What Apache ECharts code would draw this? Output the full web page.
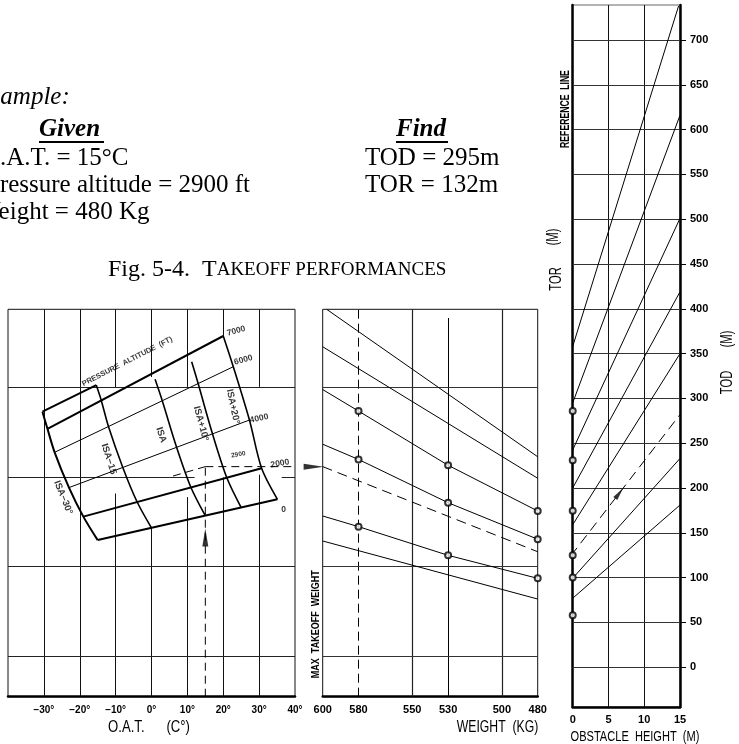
<!DOCTYPE html>
<html>
<head>
<meta charset="utf-8">
<title>Takeoff performances</title>
<script src="https://cdn.jsdelivr.net/npm/echarts@6/dist/echarts.min.js"></script>
<style>
  html, body { margin: 0; padding: 0; background: #fff; }
  #chart { width: 739px; height: 744px; }
</style>
</head>
<body>
<div id="chart"></div>
<script>
// ---------- fonts ----------
const CAD = "'Liberation Sans', Arial, sans-serif";
const SERIF = "'Liberation Serif', 'Times New Roman', serif";

// ---------- O.A.T. / pressure altitude panel (x: deg C, y: common height scale) ----------
const oatTicks = [-40, -30, -20, -10, 0, 10, 20, 30, 40];
// vertical grid segments: [O.A.T., from, to]
const oatVerticalSegs = [
  [-30, -32.8, 399.6], [-20, -32.8, 399.6],
  [-10, -32.8, 194], [-10, 312.8, 399.6],
  [0, -32.8, 155.6], [0, 324, 399.6],
  [10, -32.8, 190], [10, 313, 399.6],
  [20, -32.8, 212], [20, 369.8, 399.6],
  [30, -32.8, 215], [30, 313, 399.6]
];
// horizontal grid segments: [level, fromOAT, toOAT]
const oatHorizontalSegs = [
  [312.8, -40, 40], [212.4, -40, 12], [212.4, 36.3, 40], [112.3, -40, 40], [12.6, -40, 40]
];
// pressure altitude lines (ft), from ISA-30 to ISA+20
const pa0 = [[-15, 142.0], [35.1, 187.5]];
const pa2000 = [[-19, 168.2], [30.7, 222.1]];
const pa4000 = [[-23, 200.6], [27.3, 276.0]];
const pa6000 = [[-27, 240.0], [22.8, 335.5]];
const pa7000 = [[-29, 266.2], [20.0, 369.8]];
const paTopEdge = [[-30.4, 285.3], [-15.4, 315.0]];
// ISA deviation curves, from 0 ft upwards
const isaM30 = [[-15, 142.0], [-19, 168.2], [-23, 200.6], [-27, 240.0], [-29, 266.2], [-30.4, 285.3]];
const isaM15 = [[0, 155.6], [-4, 184.5], [-8, 223.1], [-12, 268.8], [-14, 297.9], [-15.4, 315.0]];
const isa0 = [[15, 169.2], [11, 200.7], [7, 245.6], [3, 297.5], [1.0, 321.4]];
const isaP10 = [[25, 178.3], [21, 211.6], [17, 260.6], [13, 316.7], [11.2, 341.1]];
const isaP20 = [[35.1, 187.5], [30.7, 222.1], [27.3, 276.0], [22.8, 335.5], [20.0, 369.8]];

// ---------- weight panel (x: kg, y: TOR scale in m) ----------
const weightTicks = [600, 580, 550, 530, 500, 480];
const weightGridFull = [550, 500];
const weightGridLevels = [312.8, 112.3, 12.6];
const weightGuide1 = [[597.8, 399.6], [480, 235]];
const weightGuide2 = [[600, 357.8], [480, 211]];
const weightGuide3 = [[600, 310], [580, 286], [530, 225.5], [480, 174.5]];
const weightGuide4 = [[600, 249], [580, 232], [530, 183.7], [480, 143]];
const weightGuide5 = [[600, 168.9], [580, 157], [530, 125], [480, 99.3]];
const weightGuide6 = [[600, 141], [480, 76.2]];
const weightPoints = [[580, 286], [580, 232], [580, 157], [530, 225.5], [530, 183.7], [530, 125],
  [480, 174.5], [480, 143], [480, 99.3]];

// ---------- obstacle panel (x: obstacle height m, y: TOR / TOD m) ----------
const torTicks = [0, 50, 100, 150, 200, 250, 300, 350, 400, 450, 500, 550, 600, 650, 700];
const obstacleTicks = [0, 5, 10, 15];
const todGuideA = [[0, 358], [14.8, 738]];
const todGuideB = [[0, 295], [15, 616]];
const todGuideC = [[0, 242.5], [15, 501]];
const todGuideD = [[0, 200], [15, 419]];
const todGuideE = [[0, 159], [15, 350]];
const todGuideF = [[0, 99.3], [15, 233]];
const todGuideG = [[0, 77], [15, 181]];
const referencePoints = [[0, 286], [0, 231], [0, 174.5], [0, 125], [0, 100], [0, 58]];

// ---------- worked example: 15 C, 2900 ft, 480 kg ----------
const exOatUp = [[15, -32.8], [15, 224]];
const exAlt2900 = [[6, 213.5], [15, 224]];
const exToWeight = [[15, 224], [42.5, 224]];
const exWeight = [[600, 224], [480, 129]];
const exToObstacle = [[-4.9, 129], [0, 127], [15, 282]];

// ---------- annotation anchors (data units) ----------
const paLabelText = ['7000', '6000', '4000', '2000', '0', '2900'];
const paLabelAnchors = [[23.6, 375.3], [25.6, 343], [30.0, 277.7], [35.8, 227.5], [36.8, 175.6], [24.2, 237.5]];
const isaLabelText = ['ISA\u221230\u00b0', 'ISA\u221215', 'ISA', 'ISA+10\u00b0', 'ISA+20\u00b0'];
const isaLabelAnchors = [[-24.6, 189.5], [-11.9, 232.5], [2.7, 259.3], [13.8, 272], [22.7, 291]];

// ---------- helpers ----------
const INK = '#000';
function segments(coordsList, xi, yi, style, extra) {
  return Object.assign({
    type: 'lines', coordinateSystem: 'cartesian2d', xAxisIndex: xi, yAxisIndex: yi,
    silent: true, polyline: false,
    lineStyle: Object.assign({ color: INK, width: 1, opacity: 1, curveness: 0 }, style),
    data: coordsList.map(c => ({ coords: c }))
  }, extra || {});
}
function path(data, xi, yi, style, extra) {
  return Object.assign({
    type: 'line', xAxisIndex: xi, yAxisIndex: yi, data: data,
    symbol: 'none', showSymbol: false, silent: true,
    lineStyle: Object.assign({ color: INK, width: 1 }, style)
  }, extra || {});
}
const dash = { type: [8, 5] };

const axisLabelBase = { color: INK, fontFamily: CAD, fontWeight: 'bold' };
const thickAxis = { show: true, onZero: false, lineStyle: { color: INK, width: 2.5 } };
const HEAD = 25;

const option = {
  animation: false,
  backgroundColor: '#fff',
  grid: [
    { left: 8, top: 309.3, width: 287, height: 387.4, show: true, borderColor: '#111', borderWidth: 1, containLabel: false, outerBoundsMode: 'none' },
    { left: 322.7, top: 309.3, width: 215, height: 387.4, show: true, borderColor: '#111', borderWidth: 1, containLabel: false, outerBoundsMode: 'none' },
    { left: 572.7, top: 5, width: 107.3, height: 702, show: true, borderColor: '#666', borderWidth: 1, containLabel: false, outerBoundsMode: 'none' }
  ],
  xAxis: [
    {
      gridIndex: 0, type: 'value', min: -40, max: 40, interval: 10,
      axisLine: thickAxis,
      axisTick: { show: false }, splitLine: { show: false },
      axisLabel: Object.assign({}, axisLabelBase, {
        fontSize: 10, margin: 9,
        formatter: v => v === -40 ? '' : (v < 0 ? '\u2212' + (-v) : String(v)) + '\u00b0'
      })
    },
    {
      gridIndex: 1, type: 'value', min: 480, max: 600, inverse: true,
      axisLine: thickAxis,
      axisTick: { show: false }, splitLine: { show: false },
      axisLabel: Object.assign({}, axisLabelBase, { fontSize: 11, margin: 8, customValues: weightTicks })
    },
    {
      gridIndex: 2, type: 'value', min: 0, max: 15, interval: 5,
      axisLine: thickAxis,
      axisTick: { show: false },
      splitLine: { show: true, lineStyle: { color: '#111', width: 1 } },
      axisLabel: Object.assign({}, axisLabelBase, { fontSize: 11, margin: 7 })
    }
  ],
  yAxis: [
    { gridIndex: 0, type: 'value', min: -32.8, max: 399.6, show: false },
    { gridIndex: 1, type: 'value', min: -32.8, max: 399.6, show: false },
    {
      gridIndex: 2, type: 'value', min: -44.4, max: 739.1, position: 'right',
      axisLine: thickAxis,
      axisTick: { show: true, length: 6, customValues: torTicks, lineStyle: { color: INK, width: 1 } },
      splitLine: { show: false },
      axisLabel: Object.assign({}, axisLabelBase, { fontSize: 11, margin: 10, customValues: torTicks })
    },
    {
      gridIndex: 2, type: 'value', min: -44.4, max: 739.1, position: 'left',
      axisLine: thickAxis,
      axisTick: { show: false }, axisLabel: { show: false }, splitLine: { show: false }
    }
  ],
  graphic: [
    // example block
    { type: 'text', x: -26, y: 97, style: { text: 'Example:', fontSize: HEAD, fontFamily: SERIF, fontStyle: 'italic', fill: INK, align: 'left', verticalAlign: 'middle' } },
    { type: 'text', x: 39, y: 130, style: { text: 'Given', fontSize: HEAD, fontFamily: SERIF, fontStyle: 'italic', fontWeight: 'bold', fill: INK, align: 'left', verticalAlign: 'middle' } },
    { type: 'line', shape: { x1: 39, y1: 142, x2: 104, y2: 142 }, style: { stroke: INK, lineWidth: 2 } },
    { type: 'text', x: -18, y: 158, style: { text: 'O.A.T. = 15\u00b0C', fontSize: HEAD, fontFamily: SERIF, fill: INK, align: 'left', verticalAlign: 'middle' } },
    { type: 'text', x: -14, y: 185, style: { text: 'Pressure altitude = 2900 ft', fontSize: HEAD, fontFamily: SERIF, fill: INK, align: 'left', verticalAlign: 'middle' } },
    { type: 'text', x: -23, y: 212.5, style: { text: 'Weight = 480 Kg', fontSize: HEAD, fontFamily: SERIF, fill: INK, align: 'left', verticalAlign: 'middle' } },
    { type: 'text', x: 396, y: 130, style: { text: 'Find', fontSize: HEAD, fontFamily: SERIF, fontStyle: 'italic', fontWeight: 'bold', fill: INK, align: 'left', verticalAlign: 'middle' } },
    { type: 'line', shape: { x1: 396, y1: 142, x2: 448, y2: 142 }, style: { stroke: INK, lineWidth: 2 } },
    { type: 'text', x: 365, y: 158, style: { text: 'TOD = 295m', fontSize: HEAD, fontFamily: SERIF, fill: INK, align: 'left', verticalAlign: 'middle' } },
    { type: 'text', x: 365, y: 185, style: { text: 'TOR = 132m', fontSize: HEAD, fontFamily: SERIF, fill: INK, align: 'left', verticalAlign: 'middle' } },
    {
      type: 'text', x: 108, y: 270,
      style: {
        text: '{a|Fig. 5-4.  T}{b|AKEOFF PERFORMANCES}', fill: INK, align: 'left', verticalAlign: 'middle',
        rich: {
          a: { fontSize: 24, fontFamily: SERIF, fill: INK },
          b: { fontSize: 19, fontFamily: SERIF, fill: INK }
        }
      }
    },
    // axis titles
    { type: 'text', x: 149, y: 728, scaleX: 0.82, style: { text: 'O.A.T.      (C\u00b0)', fontSize: 16, fontFamily: CAD, fill: INK, align: 'center', verticalAlign: 'middle' } },
    { type: 'text', x: 497.5, y: 727, scaleX: 0.72, style: { text: 'WEIGHT  (KG)', fontSize: 17, fontFamily: CAD, fill: INK, align: 'center', verticalAlign: 'middle' } },
    { type: 'text', x: 316.3, y: 624.2, rotation: Math.PI / 2, scaleX: 0.82, style: { text: 'MAX  TAKEOFF  WEIGHT', fontSize: 11, fontFamily: CAD, fontWeight: 'bold', fill: INK, align: 'center', verticalAlign: 'middle' } },
    { type: 'text', x: 635, y: 737, scaleX: 0.79, style: { text: 'OBSTACLE  HEIGHT  (M)', fontSize: 14, fontFamily: CAD, fill: INK, align: 'center', verticalAlign: 'middle' } },
    { type: 'text', x: 727.3, y: 382.5, rotation: Math.PI / 2, scaleX: 0.7, style: { text: 'TOD', fontSize: 16, fontFamily: CAD, fill: INK, align: 'center', verticalAlign: 'middle' } },
    { type: 'text', x: 727.3, y: 339, rotation: Math.PI / 2, scaleX: 0.7, style: { text: '(M)', fontSize: 16, fontFamily: CAD, fill: INK, align: 'center', verticalAlign: 'middle' } },
    { type: 'text', x: 556.5, y: 279, rotation: Math.PI / 2, scaleX: 0.7, style: { text: 'TOR', fontSize: 16, fontFamily: CAD, fill: INK, align: 'center', verticalAlign: 'middle' } },
    { type: 'text', x: 554, y: 237, rotation: Math.PI / 2, scaleX: 0.7, style: { text: '(M)', fontSize: 16, fontFamily: CAD, fill: INK, align: 'center', verticalAlign: 'middle' } },
    { type: 'text', x: 565.5, y: 109, rotation: Math.PI / 2, scaleX: 0.72, style: { text: 'REFERENCE  LINE', fontSize: 12, fontFamily: CAD, fontWeight: 'bold', fill: INK, align: 'center', verticalAlign: 'middle' } }
  ],
  series: [
    // ----- O.A.T. panel grid -----
    segments(oatVerticalSegs.map(s => [[s[0], s[1]], [s[0], s[2]]]), 0, 0, { color: '#111', width: 1 }),
    segments(oatHorizontalSegs.map(s => [[s[1], s[0]], [s[2], s[0]]]), 0, 0, { color: '#222', width: 1 }),
    // pressure altitude lines
    segments([pa0, pa2000, pa7000, paTopEdge], 0, 0, { width: 2 }),
    segments([pa4000, pa6000], 0, 0, { width: 1 }),
    // ISA curves
    path(isaM30, 0, 0, { width: 2 }, { smooth: 0.3 }),
    path(isaM15, 0, 0, { width: 1.6 }, { smooth: 0.3 }),
    path(isa0, 0, 0, { width: 1.6 }, { smooth: 0.3 }),
    path(isaP10, 0, 0, { width: 1.6 }, { smooth: 0.3 }),
    path(isaP20, 0, 0, { width: 1.6 }, { smooth: 0.3 }),

    // ----- weight panel grid -----
    segments(weightGridFull.map(w => [[w, -32.8], [w, 399.6]]), 1, 1, { color: '#222', width: 1.2 }),
    segments([[[530, -32.8], [530, 389.9]]], 1, 1, { color: INK, width: 1 }),
    segments([[[580, -32.8], [580, 399.6]]], 1, 1, { color: INK, width: 1, type: [9, 5] }),
    segments(weightGridLevels.map(v => [[600, v], [480, v]]), 1, 1, { color: '#333', width: 1 }),
    // weight correction guide lines
    path(weightGuide1, 1, 1, { width: 1 }),
    path(weightGuide2, 1, 1, { width: 1 }),
    path(weightGuide3, 1, 1, { width: 1 }),
    path(weightGuide4, 1, 1, { width: 1 }),
    path(weightGuide5, 1, 1, { width: 1 }),
    path(weightGuide6, 1, 1, { width: 1 }),
    {
      type: 'scatter', xAxisIndex: 1, yAxisIndex: 1, silent: true, z: 5,
      symbol: 'emptyCircle', symbolSize: 6, data: weightPoints,
      itemStyle: { color: INK, borderColor: INK, borderWidth: 1 }
    },

    // ----- obstacle panel grid -----
    segments(torTicks.map(v => [[0, v], [15, v]]), 2, 2, { color: '#333', width: 1 }),
    path(todGuideA, 2, 2, { width: 1 }),
    path(todGuideB, 2, 2, { width: 1 }),
    path(todGuideC, 2, 2, { width: 1 }),
    path(todGuideD, 2, 2, { width: 1 }),
    path(todGuideE, 2, 2, { width: 1 }),
    path(todGuideF, 2, 2, { width: 1 }),
    path(todGuideG, 2, 2, { width: 1 }),
    {
      type: 'scatter', xAxisIndex: 2, yAxisIndex: 2, silent: true, z: 5, clip: false,
      symbol: 'emptyCircle', symbolSize: 6, data: referencePoints,
      itemStyle: { color: INK, borderColor: INK, borderWidth: 1 }
    },

    // ----- worked example -----
    path(exOatUp, 0, 0, Object.assign({ width: 1 }, dash)),
    path(exAlt2900, 0, 0, Object.assign({ width: 1 }, dash)),
    path(exToWeight, 0, 0, Object.assign({ width: 1 }, dash), { clip: false }),
    path(exWeight, 1, 1, { width: 1, type: [10, 6] }),
    path(exToObstacle, 2, 2, { width: 1, type: [10, 6] }, { clip: false }),
    {
      type: 'scatter', xAxisIndex: 0, yAxisIndex: 0, silent: true, clip: false, z: 6,
      symbol: 'triangle', itemStyle: { color: INK },
      data: [
        { value: [15, 145], symbolSize: [6, 18], symbolRotate: 0 },
        { value: [45.2, 224], symbolSize: [6, 20], symbolRotate: -90 }
      ]
    },
    {
      type: 'scatter', xAxisIndex: 2, yAxisIndex: 2, silent: true, clip: false, z: 6,
      symbol: 'triangle', itemStyle: { color: INK },
      data: [{ value: [6.5, 194], symbolSize: [5, 13], symbolRotate: -37 }]
    },

    // ----- annotations -----
    {
      type: 'scatter', xAxisIndex: 0, yAxisIndex: 0, silent: true, clip: false, z: 7,
      symbolSize: 1, itemStyle: { color: 'rgba(0,0,0,0)' },
      label: { show: true, position: 'inside', align: 'center', verticalAlign: 'middle', fontFamily: CAD, fontWeight: 'bold', fontSize: 8.5, color: INK },
      data: paLabelText.map((t, i) => ({
        value: paLabelAnchors[i],
        label: { formatter: t, rotate: [15, 15, 12, 10, 0, 10][i], fontSize: i === 5 ? 6.5 : 8.5 }
      })).concat(isaLabelText.map((t, i) => ({
        value: isaLabelAnchors[i],
        label: { formatter: t, rotate: [-68, -72, -72, -75, -78][i], fontSize: 9.5 }
      }))).concat([{
        value: [-6.75, 341.3],
        label: { formatter: 'PRESSURE  ALTITUDE  (FT)', rotate: 27, fontSize: 7.5 }
      }])
    }
  ]
};

const chart = echarts.init(document.getElementById('chart'), null, { renderer: 'canvas', width: 739, height: 744 });
chart.setOption(option);
</script>
</body>
</html>
